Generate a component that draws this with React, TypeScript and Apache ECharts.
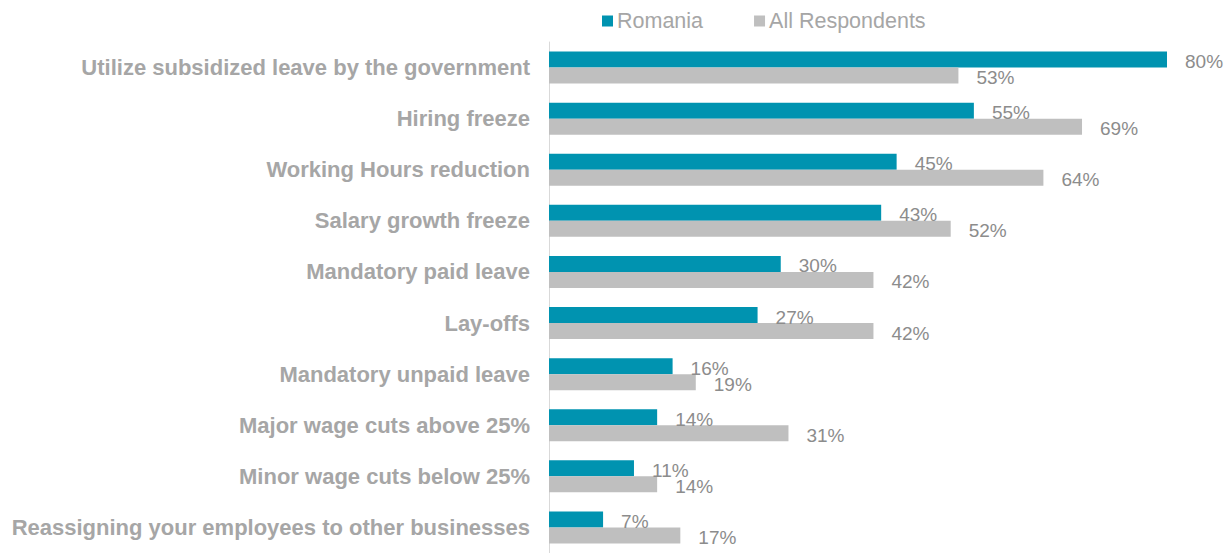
import React, { useEffect, useRef } from "react";
import * as echarts from "echarts";

const categories = [
  "Utilize subsidized leave by the government",
  "Hiring freeze",
  "Working Hours reduction",
  "Salary growth freeze",
  "Mandatory paid leave",
  "Lay-offs",
  "Mandatory unpaid leave",
  "Major wage cuts above 25%",
  "Minor wage cuts below 25%",
  "Reassigning your employees to other businesses",
];
const romania = [80, 55, 45, 43, 30, 27, 16, 14, 11, 7];
const allRespondents = [53, 69, 64, 52, 42, 42, 19, 31, 14, 17];
const seriesNames = ["Romania", "All Respondents"];

export default function App() {
  const ref = useRef<HTMLDivElement>(null);
  useEffect(() => {
    if (!ref.current) return;
    const chart = echarts.init(ref.current, undefined, { renderer: "svg" });
    const label = {
      show: true,
      position: "right",
      distance: 18,
      offset: [0, 2],
      formatter: "{c}%",
      color: "#8C8C8C",
      fontSize: 19,
      fontFamily: "Liberation Sans, Arial, sans-serif",
    };
    chart.setOption({
      animation: false,
      textStyle: { fontFamily: "Liberation Sans, Arial, sans-serif" },
      legend: {
        top: 5,
        left: 597,
        itemWidth: 11,
        itemHeight: 11,
        itemGap: 51,
        icon: "rect",
        textStyle: { color: "#A6A6A6", fontSize: 21.5, padding: [0, 0, 0, -1] },
        data: seriesNames,
      },
      grid: { left: 549, top: 42, width: 618, height: 516, containLabel: false },
      xAxis: {
        type: "value",
        min: 0,
        max: 80,
        show: false,
        splitLine: { show: false },
      },
      yAxis: {
        type: "category",
        inverse: true,
        data: categories,
        axisTick: { show: false },
        axisLine: { show: true, lineStyle: { color: "#D9D9D9", width: 1 } },
        axisLabel: {
          color: "#A6A6A6",
          fontSize: 22,
          fontWeight: "bold",
          margin: 19,
        },
      },
      series: [
        {
          name: seriesNames[0],
          type: "bar",
          data: romania,
          barWidth: 16,
          barGap: "0%",
          itemStyle: { color: "#0093B0" },
          label,
        },
        {
          name: seriesNames[1],
          type: "bar",
          data: allRespondents,
          barWidth: 16,
          barGap: "0%",
          itemStyle: { color: "#BFBFBF" },
          label,
        },
      ],
    });
    return () => chart.dispose();
  }, []);
  return (
    <div
      ref={ref}
      style={{ position: "fixed", left: 0, top: 0, width: 1227, height: 553, background: "#fff" }}
    />
  );
}
